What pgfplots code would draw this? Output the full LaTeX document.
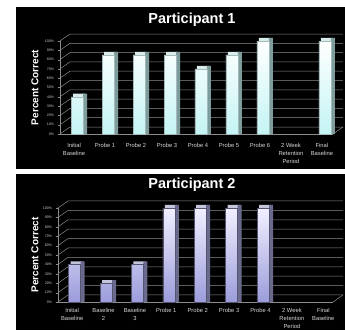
\documentclass[border=0pt]{standalone}
\usepackage{fontspec}
\setmainfont{Liberation Sans}
\usepackage{pgfplots}
\pgfplotsset{compat=1.18}
\usepackage{pgfplotstable}

\pgfplotstableread{
x v
0 40
1 85
2 85
3 85
4 70
5 85
6 100
8 100
}\pOne
\pgfplotstableread{
x v
0 40
1 20
2 40
3 100
4 100
5 100
6 100
}\pTwo

\definecolor{c1top}{HTML}{FFFFFF}
\definecolor{c1bot}{HTML}{C4F4F4}
\definecolor{c1side}{HTML}{7E9C9C}
\definecolor{c1cap}{HTML}{D8ECEC}
\definecolor{c2top}{HTML}{F0F0FF}
\definecolor{c2bot}{HTML}{9C9CDC}
\definecolor{c2side}{HTML}{6A6A8E}
\definecolor{c2cap}{HTML}{C4C4DC}
\definecolor{gridc}{HTML}{8C8C8C}

\pgfplotsset{
  panel/.style={
    scale only axis, clip=false,
    axis x line*=bottom, axis y line*=left,
    axis line style={gridc, line width=0.6pt},
    ymin=0, ymax=100, ytick={0,10,...,100},
    yticklabel={\pgfmathprintnumber{\tick}\%},
    /pgf/number format/assume math mode=true,
    yticklabel style={font=\fontsize{3.6}{4}\selectfont, text=white!80!black, xshift=-0.5pt},
    major tick length=2pt,
    major y tick style={gridc},
    major x tick style={draw=none},
    xtick={0,...,8},
    xticklabel style={font=\fontsize{5.8}{7.8}\selectfont, text=white!85!black, align=center, anchor=north},
    ylabel={\bfseries Percent Correct},
    tick align=outside,
  },
}

\begin{document}
\begin{tikzpicture}
\fill[white] (0pt,0pt) rectangle (345pt,330pt);
\fill[black] (16pt,161pt) rectangle (345pt,323pt);
\fill[black] (16pt,0pt) rectangle (345pt,156pt);

\node[font=\fontsize{14.5}{16}\selectfont\bfseries, text=white] at (192pt,310pt) {Participant 1};
\node[font=\fontsize{14.5}{16}\selectfont\bfseries, text=white] at (192pt,145pt) {Participant 2};

% ---------------- Participant 1 ----------------
\begin{axis}[panel,
  at={(60pt,196pt)}, anchor=south west,
  width=273pt, height=93pt,
  xmin=-0.55, xmax=8.26,
  xticklabels={{Initial\\Baseline},{Probe 1},{Probe 2},{Probe 3},{Probe 4},{Probe 5},{Probe 6},{2 Week\\Retention\\Period},{Final\\Baseline}},
  xticklabel style={xshift=-3pt, yshift=-4pt},
  every axis y label/.style={at={(axis description cs:0,0.5)}, rotate=90, anchor=south, inner sep=0pt, yshift=21.4pt, font=\fontsize{10}{12}\selectfont, text=white},
]
\pgfplotsinvokeforeach{0,10,...,100}{
  \draw[gridc, line width=0.5pt] (axis cs:-0.55,#1) -- (axis cs:-0.23,{#1+7.5}) -- (axis cs:8.58,{#1+7.5});
}
\draw[gridc, line width=0.5pt] (axis cs:8.26,0) -- (axis cs:8.58,7.5);
\addplot[ybar, bar width=12pt, bar shift=2pt, fill=c1cap, draw=none] table[x=x, y expr=\thisrow{v}+3.3] {\pOne};
\addplot[ybar, bar width=4pt, bar shift=8pt, fill=c1side, draw=none] table[x=x, y expr=\thisrow{v}+3.3] {\pOne};
\addplot[ybar, bar width=12pt, bar shift=0pt, top color=c1top, bottom color=c1bot, draw=c1side!70!white, line width=0.3pt] table[x=x, y=v] {\pOne};
\end{axis}

% ---------------- Participant 2 ----------------
\begin{axis}[panel,
  at={(58pt,28pt)}, anchor=south west,
  width=275pt, height=94pt,
  xmin=-0.53, xmax=8.23,
  xticklabels={{Initial\\Baseline},{Baseline\\2},{Baseline\\3},{Probe 1},{Probe 2},{Probe 3},{Probe 4},{2 Week\\Retention\\Period},{Final\\Baseline}},
  xticklabel style={xshift=-2.5pt, yshift=-1pt},
  every axis y label/.style={at={(axis description cs:0,0.5)}, rotate=90, anchor=south, inner sep=0pt, yshift=19.4pt, font=\fontsize{10}{12}\selectfont, text=white},
]
\pgfplotsinvokeforeach{0,10,...,100}{
  \draw[gridc, line width=0.5pt] (axis cs:-0.53,#1) -- (axis cs:-0.21,{#1+7.5}) -- (axis cs:8.55,{#1+7.5});
}
\draw[gridc, line width=0.5pt] (axis cs:8.23,0) -- (axis cs:8.55,7.5);
\addplot[ybar, bar width=12pt, bar shift=2pt, fill=c2cap, draw=none] table[x=x, y expr=\thisrow{v}+3.3] {\pTwo};
\addplot[ybar, bar width=4pt, bar shift=8pt, fill=c2side, draw=none] table[x=x, y expr=\thisrow{v}+3.3] {\pTwo};
\addplot[ybar, bar width=12pt, bar shift=0pt, top color=c2top, bottom color=c2bot, draw=c2side!80!black, line width=0.4pt] table[x=x, y=v] {\pTwo};
\end{axis}

\pgfresetboundingbox
\path[use as bounding box] (0pt,0pt) rectangle (345pt,330pt);
\end{tikzpicture}
\end{document}
